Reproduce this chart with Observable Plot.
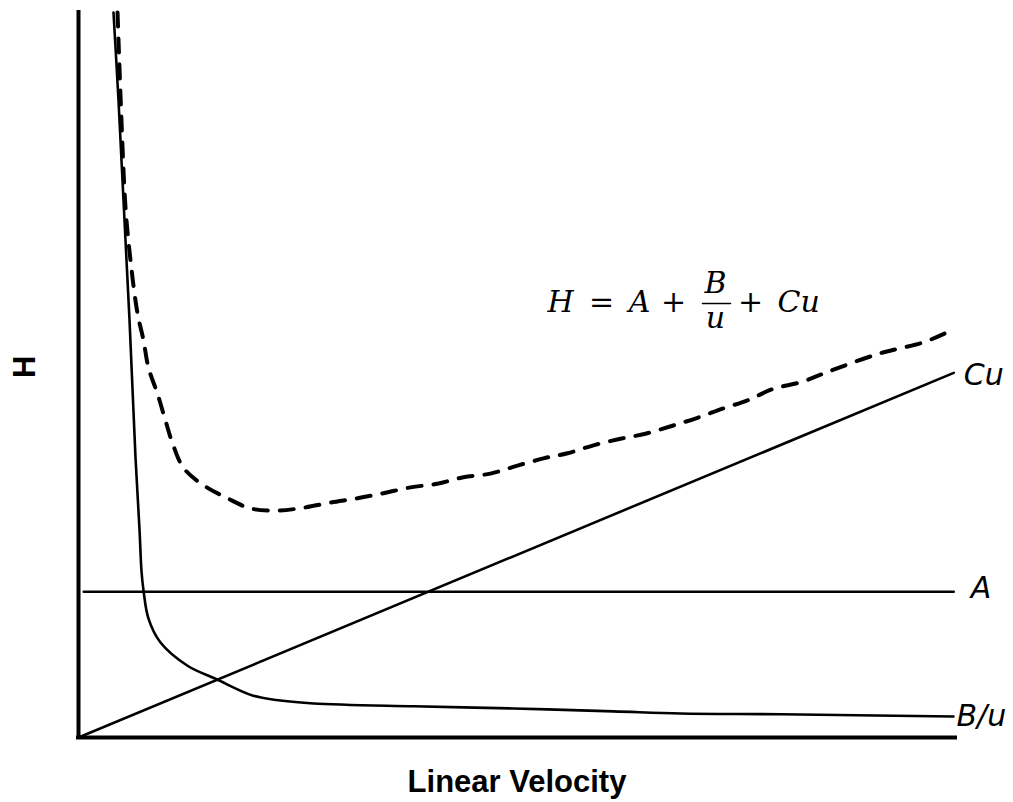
<!DOCTYPE html>
<html><head><meta charset="utf-8">
<script src="https://cdn.jsdelivr.net/npm/d3@7"></script>
<script src="https://cdn.jsdelivr.net/npm/@observablehq/plot@0.6"></script>
<style>body{margin:0;background:#fff}</style>
</head><body><div id="chart"></div>
<script>
// B/u term (solid curve)
const bX = [3.99, 4.56, 5.13, 5.82, 6.50, 6.96, 7.18, 7.41, 7.98, 9.35, 12.43, 15.62, 19.84, 23.03, 26.80, 38.20, 49.60, 61.00, 68.64, 80.05, 99.77];
const bY = [100.0, 87.9, 74.1, 57.5, 38.6, 28.6, 23.0, 20.3, 16.4, 13.1, 9.9, 8.1, 5.8, 5.1, 4.7, 4.3, 4.0, 3.6, 3.3, 3.2, 2.9];
// H total (dashed curve)
const hX = [4.45, 4.90, 5.36, 5.93, 6.73, 7.41, 7.98, 9.01, 9.92, 10.72, 11.97, 14.25, 16.99, 19.61, 22.69, 25.66, 28.73, 31.81, 34.78, 37.86, 40.93, 43.90, 46.98, 50.06, 53.02, 55.76, 58.72, 61.80, 64.65, 67.73, 70.58, 73.55, 76.28, 79.25, 82.33, 84.95, 88.03, 91.45, 93.73, 96.35, 99.8];
const hY = [100, 85.1, 73.1, 65.8, 58.5, 54.8, 51.0, 47.4, 43.7, 40.6, 37.2, 34.8, 33.0, 31.6, 31.3, 31.7, 32.4, 33.0, 33.7, 34.5, 35.0, 35.9, 36.4, 37.5, 38.5, 39.2, 40.3, 41.2, 41.9, 43.0, 44.1, 45.4, 46.5, 48.1, 49.0, 50.2, 51.6, 53.0, 53.7, 54.5, 56.3];
// Cu term (straight line)
const cuX = [0, 99.8];
const cuY = [0, 50.3];
// A term (constant)
const aX = [0.6, 99.8];
const aY = [20.1, 20.1];
// line-end labels
const termLabels = ["Cu", "A", "B/u"];
// axis titles
const xTitle = "Linear Velocity";
const yTitle = "H";
// formula glyphs: H = A + B/u + Cu
const formulaGlyphs = ["H", "=", "A", "+", "B", "u", "+", "Cu"];
const formulaItalic = [true, false, true, false, true, true, false, true];

// annotation layout (data units)
const formulaGlyphX = [54.96, 59.64, 63.97, 67.84, 72.63, 72.63, 76.62, 79.70];
const formulaGlyphY = [60.07, 60.07, 60.07, 60.07, 62.69, 57.86, 60.07, 60.07];
const formulaAnchor = ["middle", "middle", "middle", "middle", "middle", "middle", "middle", "start"];
const fracBar = [{x: 71.15, y: 59.86}, {x: 74.34, y: 59.86}];

const toRows = (xs, ys) => xs.map((x, i) => ({x, y: ys[i]}));
const bRows = toRows(bX, bY);
const hRows = toRows(hX, hY);
const cuRows = toRows(cuX, cuY);
const aRows = toRows(aX, aY);
const ends = [
  {...cuRows[cuRows.length - 1], label: termLabels[0]},
  {...aRows[aRows.length - 1], label: termLabels[1]},
  {...bRows[bRows.length - 1], label: termLabels[2]}
];
const glyphRows = formulaGlyphs.map((t, i) => ({t, x: formulaGlyphX[i], y: formulaGlyphY[i], it: formulaItalic[i], a: formulaAnchor[i]}));

const mathFont = "DejaVu Serif";
const labelFont = "DejaVu Sans";

const glyphMark = (rows, italic, anchor) => Plot.text(rows.filter(d => d.it === italic && d.a === anchor), {
  x: "x", y: "y", text: "t", textAnchor: anchor, fontSize: 30,
  fontStyle: italic ? "italic" : "normal", fontFamily: mathFont, fill: "#000"
});

const chart = Plot.plot({
  width: 1013,
  height: 802,
  marginLeft: 78,
  marginRight: 58,
  marginTop: 12,
  marginBottom: 65,
  x: {domain: [0, 100], axis: null},
  y: {domain: [0, 100], axis: null},
  style: {background: "#fff"},
  marks: [
    Plot.line(aRows, {x: "x", y: "y", stroke: "#000", strokeWidth: 2.6}),
    Plot.line(cuRows, {x: "x", y: "y", stroke: "#000", strokeWidth: 2.6}),
    Plot.line(bRows, {x: "x", y: "y", stroke: "#000", strokeWidth: 2.6, curve: "catmull-rom"}),
    Plot.line(hRows, {x: "x", y: "y", stroke: "#000", strokeWidth: 4, strokeDasharray: "14,12", curve: "catmull-rom"}),
    Plot.ruleX([0], {stroke: "#000", strokeWidth: 4, strokeLinecap: "square"}),
    Plot.ruleY([0], {stroke: "#000", strokeWidth: 4, strokeLinecap: "square"}),
    Plot.text([ends[0]], {x: "x", y: "y", text: "label", textAnchor: "start", dx: 10, dy: 3, fontSize: 30, fontStyle: "italic", fontFamily: labelFont, fill: "#000"}),
    Plot.text([ends[1]], {x: "x", y: "y", text: "label", textAnchor: "start", dx: 17, dy: -3, fontSize: 30, fontStyle: "italic", fontFamily: labelFont, fill: "#000"}),
    Plot.text([ends[2]], {x: "x", y: "y", text: "label", textAnchor: "start", dx: 3, dy: 0, fontSize: 30, fontStyle: "italic", fontFamily: labelFont, fill: "#000"}),
    glyphMark(glyphRows, true, "middle"),
    glyphMark(glyphRows, false, "middle"),
    glyphMark(glyphRows, true, "start"),
    Plot.line(fracBar, {x: "x", y: "y", stroke: "#000", strokeWidth: 1.6}),
    Plot.text([xTitle], {frameAnchor: "bottom", dy: 54, fontSize: 31, fontWeight: "bold", fontFamily: "Liberation Sans", fill: "#000"}),
    Plot.text([yTitle], {frameAnchor: "left", dx: -53, dy: 3, rotate: -90, fontSize: 31, fontWeight: "bold", fontFamily: "Liberation Sans", fill: "#000"})
  ]
});
document.getElementById("chart").appendChild(chart);
</script>
</body></html>
